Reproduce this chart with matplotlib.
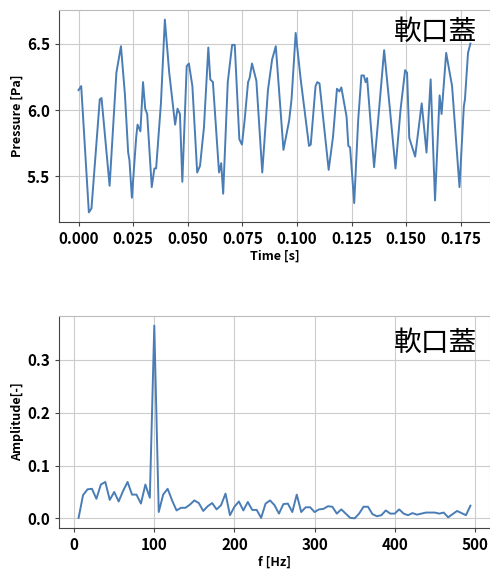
import numpy as np
import matplotlib
matplotlib.use("Agg")
import matplotlib.pyplot as plt

plt.rcParams['font.family'] = ['Noto Sans CJK JP', 'DejaVu Sans']

# pressure signal, turning points (time in ms)
time_ms = [0.0, 1.2, 4.7, 5.9, 9.7, 10.5, 14.2, 17.3, 19.4, 21.2, 22.7, 23.3, 24.4,
           26.4, 27.0, 28.3, 29.5, 30.5, 31.4, 33.5, 34.7, 35.5, 37.7, 39.5, 41.5,
           44.2, 45.3, 46.4, 47.5, 49.5, 50.5, 52.1, 54.3, 55.6, 57.4, 59.4, 60.3,
           61.5, 64.3, 65.3, 66.2, 68.3, 70.3, 71.5, 73.6, 74.8, 76.0, 77.6, 78.3,
           79.4, 81.4, 84.1, 86.7, 88.6, 90.3, 93.8, 96.4, 97.5, 99.4, 101.7, 105.5,
           106.3, 108.5, 109.3, 110.3, 114.5, 116.5, 118.3, 119.4, 120.3, 122.7,
           123.5, 124.3, 126.2, 128.0, 129.5, 130.6, 131.4, 132.1, 135.3, 137.4,
           139.9, 142.4, 145.1, 147.4, 149.5, 150.4, 151.4, 154.1, 157.1, 159.3,
           161.2, 163.2, 165.3, 166.2, 168.3, 171.0, 174.4, 176.4, 176.9, 178.3, 179.4]
pressure = [6.15, 6.18, 5.23, 5.26, 6.08, 6.09, 5.43, 6.28, 6.48, 6.12, 5.68, 5.62, 5.34,
            5.80, 5.89, 5.84, 6.21, 6.01, 5.97, 5.42, 5.56, 5.56, 6.05, 6.68, 6.28,
            5.89, 6.01, 5.97, 5.46, 6.33, 6.35, 6.18, 5.53, 5.58, 5.87, 6.47, 6.23,
            6.21, 5.53, 5.60, 5.37, 6.21, 6.49, 6.49, 5.78, 5.74, 5.92, 6.21, 6.24,
            6.35, 6.22, 5.53, 6.15, 6.38, 6.48, 5.70, 5.92, 6.08, 6.58, 6.23, 5.73,
            5.74, 6.18, 6.21, 6.20, 5.55, 5.80, 6.16, 6.14, 6.17, 5.95,
            5.73, 5.72, 5.30, 5.92, 6.26, 6.26, 6.21, 6.24, 5.57, 5.97,
            6.45, 6.03, 5.56, 6.00, 6.30, 6.28, 5.79, 5.65, 6.05, 5.68,
            6.23, 5.32, 6.11, 5.97, 6.43, 6.18, 5.42, 6.03, 6.08, 6.43, 6.50]

# spectrum amplitude, one value per frequency bin (bin width = 1 / record length)
record_length = 0.18
amplitude = [0.001, 0.044, 0.055, 0.056, 0.037, 0.064, 0.069, 0.035, 0.050, 0.032,
             0.052, 0.069, 0.045, 0.045, 0.028, 0.064, 0.039, 0.365, 0.012, 0.045,
             0.056, 0.034, 0.015, 0.020, 0.020, 0.026, 0.034, 0.029, 0.014, 0.023,
             0.029, 0.017, 0.025, 0.047, 0.006, 0.022, 0.032, 0.015, 0.031, 0.016,
             0.016, 0.001, 0.028, 0.034, 0.025, 0.009, 0.027, 0.028, 0.012, 0.045,
             0.012, 0.021, 0.021, 0.012, 0.017, 0.018, 0.023, 0.022, 0.009, 0.017,
             0.009, 0.001, 0.000, 0.009, 0.022, 0.022, 0.008, 0.004, 0.006, 0.015,
             0.009, 0.009, 0.017, 0.009, 0.006, 0.010, 0.007, 0.009, 0.011, 0.011,
             0.011, 0.009, 0.011, 0.002, 0.008, 0.014, 0.010, 0.006, 0.024]

label_text = "軟口蓋"
line_color = "#4a7db5"

t = np.array(time_ms) / 1000.0
freq = np.arange(1, len(amplitude) + 1) / record_length

fig = plt.figure(figsize=(4.9, 5.71), dpi=100)
ax1 = fig.add_axes([0.1204, 0.6112, 0.8796, 0.3713])
ax2 = fig.add_axes([0.1204, 0.0753, 0.8796, 0.3713])


def style_axes(ax):
    ax.grid(True, color="#cccccc", linewidth=0.8)
    ax.set_axisbelow(True)
    for side in ["left", "bottom"]:
        ax.spines[side].set_color("#444444")
    for side in ["top", "right"]:
        ax.spines[side].set_color("#bbbbbb")
    ax.tick_params(axis="both", labelsize=11, length=3, color="#444444")
    for lab in ax.get_xticklabels() + ax.get_yticklabels():
        lab.set_fontweight("bold")


# top: pressure over time
ax1.plot(t, pressure, color=line_color, linewidth=1.4)
ax1.set_xticks([0.0, 0.025, 0.05, 0.075, 0.1, 0.125, 0.15, 0.175])
ax1.set_xticklabels(["0.000", "0.025", "0.050", "0.075", "0.100", "0.125", "0.150", "0.175"])
ax1.set_yticks([5.5, 6.0, 6.5])
ax1.set_yticklabels(["5.5", "6.0", "6.5"])
ax1.set_xlabel("Time [s]", fontsize=9, fontweight="bold", labelpad=2)
ax1.set_ylabel("Pressure [Pa]", fontsize=9, fontweight="bold", labelpad=2)
ax1.text(0.97, 0.895, label_text, transform=ax1.transAxes, ha="right", va="center",
         fontsize=20)
style_axes(ax1)

# bottom: amplitude spectrum
ax2.plot(freq, amplitude, color=line_color, linewidth=1.4)
ax2.set_xticks([0, 100, 200, 300, 400, 500])
ax2.set_yticks([0.0, 0.1, 0.2, 0.3])
ax2.set_yticklabels(["0.0", "0.1", "0.2", "0.3"])
ax2.set_xlabel("f [Hz]", fontsize=9, fontweight="bold", labelpad=2)
ax2.set_ylabel("Amplitude[-]", fontsize=9, fontweight="bold", labelpad=2)
ax2.text(0.97, 0.873, label_text, transform=ax2.transAxes, ha="right", va="center",
         fontsize=20)
style_axes(ax2)

fig.savefig("out.png", dpi=100)
